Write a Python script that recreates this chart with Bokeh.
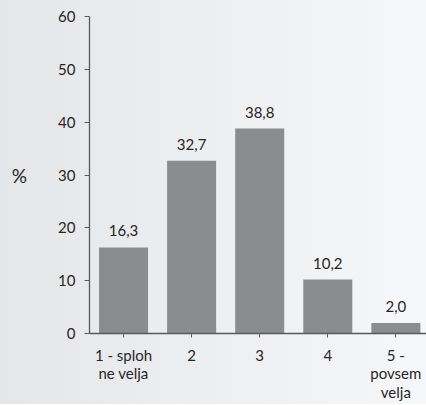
from bokeh.plotting import figure
from bokeh.models import ColumnDataSource, FixedTicker, Range1d
from bokeh.core.properties import value
from bokeh.embed import file_html
from bokeh.resources import INLINE

# Share of answers per scale point (%)
categories = ["1 - sploh\nne velja", "2", "3", "4", "5 -\npovsem\nvelja"]
positions = [1, 2, 3, 4, 5]
shares = [16.3, 32.7, 38.8, 10.2, 2.0]
share_labels = ["16,3", "32,7", "38,8", "10,2", "2,0"]
y_ticks = [0, 10, 20, 30, 40, 50, 60]

FONT = "Lato"
TEXT = "#262626"
AXIS = "#5a5a5a"
BAR = "#8b8c90"

src = ColumnDataSource(dict(x=positions, top=shares, lab=share_labels))

p = figure(
    frame_width=337, frame_height=317,
    output_backend="svg", toolbar_location=None,
    x_range=Range1d(0.5, 5.45), y_range=Range1d(0, 60),
    min_border_left=89, min_border_right=0,
    min_border_top=16, min_border_bottom=0,
)
p.border_fill_color = None
p.background_fill_color = None
p.styles = {"background-image": "linear-gradient(to right, #e5e6e8, #f6f7f8)"}
p.outline_line_color = None
p.grid.visible = False

p.vbar(x="x", top="top", width=0.72, bottom=0, source=src,
       fill_color=BAR, line_color=None)

p.text(x="x", y="top", text="lab", source=src,
       text_align="center", text_baseline="bottom", y_offset=-11,
       text_font=value(FONT), text_font_size="15px", text_color=TEXT)

# y axis
ya = p.yaxis[0]
ya.ticker = FixedTicker(ticks=y_ticks)
ya.axis_line_color = AXIS
ya.axis_line_width = 1.3
ya.major_tick_line_color = AXIS
ya.major_tick_in = 0
ya.major_tick_out = 5
ya.minor_tick_line_color = None
ya.major_label_standoff = 9
ya.major_label_text_font = FONT
ya.major_label_text_font_size = "15px"
ya.major_label_text_color = TEXT
ya.axis_label = "%"
ya.axis_label_orientation = "horizontal"
ya.axis_label_standoff = 28
ya.axis_label_text_font = FONT
ya.axis_label_text_font_size = "19px"
ya.axis_label_text_font_style = "normal"
ya.axis_label_text_color = TEXT

# x axis
xa = p.xaxis[0]
xa.ticker = FixedTicker(ticks=positions)
xa.major_label_overrides = {pos: cat for pos, cat in zip(positions, categories)}
xa.axis_line_color = AXIS
xa.axis_line_width = 1.3
xa.major_tick_line_color = AXIS
xa.major_tick_in = 0
xa.major_tick_out = 4
xa.minor_tick_line_color = None
xa.major_label_standoff = 8
xa.major_label_text_font = FONT
xa.major_label_text_font_size = "15px"
xa.major_label_text_color = TEXT
xa.major_label_text_line_height = 1.05

open("out.html", "w").write(file_html(p, INLINE))
